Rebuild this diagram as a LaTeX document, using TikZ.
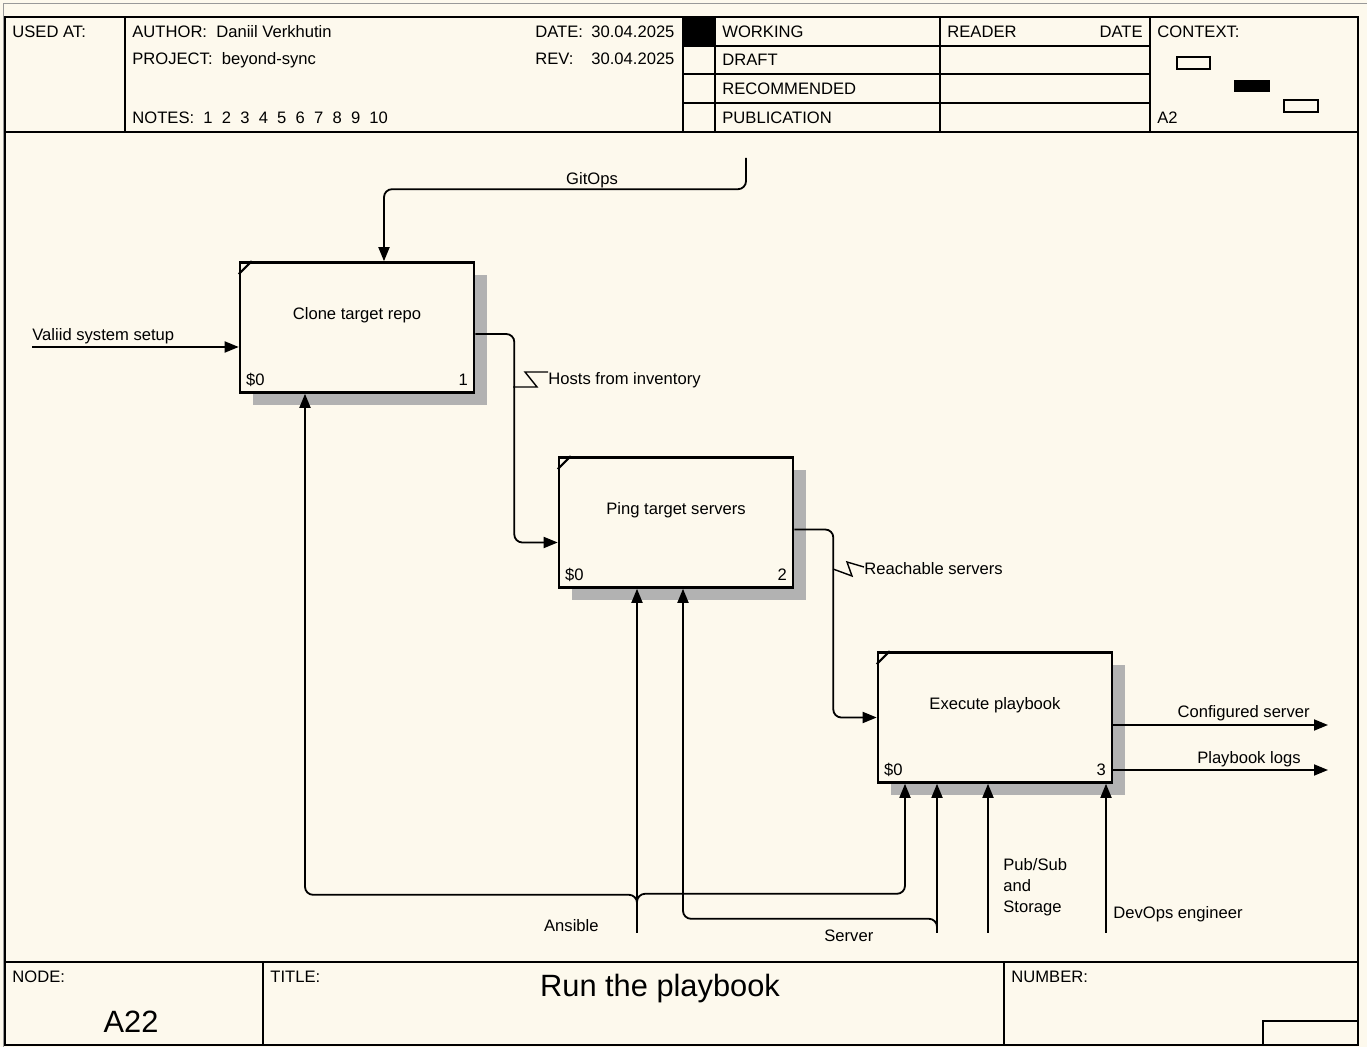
\documentclass[tikz,border=0pt]{standalone}
\usepackage{fontspec}
\setmainfont{Liberation Sans}
\usetikzlibrary{arrows.meta,calc,positioning,shadows}
\definecolor{paper}{HTML}{FDF9ED}
\newcommand{\lsz}{\fontsize{8.3}{10.5}\selectfont}
\newcommand{\bigsz}{\fontsize{15.4}{18}\selectfont}
\tikzset{
  fnbox/.style = {draw, line width=1.3pt, fill=paper, minimum width=117pt, minimum height=65pt,
                  inner sep=0pt,
                  drop shadow={shadow xshift=6.5pt, shadow yshift=-6.5pt, fill=black!30, opacity=1}},
  wire/.style  = {line width=0.9pt, rounded corners=4pt},
  flow/.style  = {wire, -{Triangle[length=7pt,width=5.5pt]}},
  squig/.style = {line width=0.7pt},
  frame/.style = {line width=1pt},
  lbl/.style   = {font=\lsz, inner sep=0pt, anchor=base west},
}

\begin{document}
\begin{tikzpicture}[x=0.5pt,y=-0.5pt]
  \fill[paper] (0,0) rectangle (1367,1047);
  \useasboundingbox (0,0) rectangle (1367,1047);
  \draw[black!40] (3,1047) -- (3,3) -- (1367,3);
  \draw[frame] (5,17) rectangle (1358,1045);
  \draw[frame] (5,132) -- (1358,132);
  \draw[frame] (5,962) -- (1358,962);
  \foreach \x in {125,683,715,940,1150} \draw[frame] (\x,17) -- (\x,132);
  \foreach \y in {46,74,103} \draw[frame] (683,\y) -- (1150,\y);
  \fill (683,17) rectangle (715,46);
  \draw[frame] (1177,57) rectangle (1210,69);
  \fill (1234,80) rectangle (1270,92);
  \draw[frame] (1284,100) rectangle (1318,112);
  \foreach \x in {263,1004} \draw[frame] (\x,962) -- (\x,1045);
  \draw[frame] (1263,1045) |- (1358,1021);

  \node[lbl] (usedat)  at (12,38)   {USED AT:};
  \node[lbl] (author)  at (132,38)  {AUTHOR:\ \ Daniil Verkhutin};
  \node[lbl] (project) at (132,65)  {PROJECT:\ \ beyond-sync};
  \node[lbl] (notes)   at (132,124) {NOTES:\ \ 1\ \ 2\ \ 3\ \ 4\ \ 5\ \ 6\ \ 7\ \ 8\ \ 9\ \ 10};
  \node[lbl] (date)    at (535,38)  {DATE:};
  \node[lbl] (dateval) at (591,38)  {30.04.2025};
  \node[lbl] (rev)     at (535,65)  {REV:};
  \node[lbl] (revval)  at (591,65)  {30.04.2025};
  \node[lbl] (working) at (722,38)  {WORKING};
  \node[lbl] (draft)   at (722,66)  {DRAFT};
  \node[lbl] (recomm)  at (722,95)  {RECOMMENDED};
  \node[lbl] (publ)    at (722,124) {PUBLICATION};
  \node[lbl] (reader)  at (947,38)  {READER};
  \node[lbl,anchor=base east] (rdate) at (1143,38) {DATE};
  \node[lbl] (context) at (1157,38)  {CONTEXT:};
  \node[lbl] (ctxnode) at (1157,124) {A2};
  \node[lbl] (nodelbl) at (12,983)   {NODE:};
  \node[lbl] (titlelbl) at (270,983) {TITLE:};
  \node[lbl] (numlbl)  at (1011,983) {NUMBER:};
  \node[inner sep=0pt,anchor=base,font=\bigsz] (nodeid) at (131,1033) {A22};
  \node[inner sep=0pt,anchor=base,font=\bigsz] (title)  at (660,997)  {Run the playbook};

  \node[fnbox] (clone) at (357,327.5) {};
  \node[fnbox] (ping)  at ($(clone)+(319,195)$) {};
  \node[fnbox] (exec)  at ($(ping)+(319,195)$) {};
  \foreach \b/\t/\n in {clone/Clone target repo/1, ping/Ping target servers/2, exec/Execute playbook/3}{
    \node[lbl,anchor=base] (\b-t) at ($(\b.north)+(0,58)$) {\t};
    \node[lbl] (\b-c) at ($(\b.south west)+(7,-8)$) {\$0};
    \node[lbl,anchor=base east] (\b-n) at ($(\b.south east)+(-7,-8)$) {\n};
    \draw[line width=1.1pt] ($(\b.north west)+(0,13)$) -- ($(\b.north west)+(13,0)$);
  }

  \coordinate (gitops)  at (746,158);
  \coordinate (setup)   at (32,347);
  \coordinate (cfgout)  at (1328,725);
  \coordinate (logout)  at (1328,770);
  \coordinate (ansible) at (637,933);
  \coordinate (server)  at (937,933);
  \coordinate (pubsub)  at (988,933);
  \coordinate (devops)  at (1106,933);

  \draw[flow] (gitops) |- ($(clone.north)+(27,-72)$) -- ($(clone.north)+(27,0)$);
  \draw[flow] (setup) -- (setup -| clone.west);
  \draw[flow] ($(clone.east)+(0,6.5)$) -- ++(39,0) |- ($(ping.west)+(0,20)$);
  \draw[flow] ($(ping.east)+(0,7)$) -- ++(39,0) |- (exec.west);
  \draw[flow] (exec.east |- cfgout) -- (cfgout);
  \draw[flow] (exec.east |- logout) -- (logout);
  \draw[flow] (ansible) -- (ansible |- ping.south);
  \draw[flow] (ansible) |- ($(clone.south)+(-52,501)$) -- ($(clone.south)+(-52,0)$);
  \draw[flow] (ansible) |- ($(exec.south)+(-90,110)$) -- ($(exec.south)+(-90,0)$);
  \draw[flow] (server) -- (server |- exec.south);
  \draw[flow] (server) |- ($(ping.south)+(7,330)$) -- ($(ping.south)+(7,0)$);
  \draw[flow] (pubsub) -- (pubsub |- exec.south);
  \draw[flow] (devops) -- (devops |- exec.south);

  \draw[squig] (513,387) -- (537,387) -- (525,372) -- (548,372);
  \draw[squig] (833,569) -- (852,576) -- (847,562) -- (864,567);

  \node[lbl,anchor=base] (gitops-l) at (592,185) {GitOps};
  \node[lbl] (setup-l)  at (32,341)  {Valiid system setup};
  \node[lbl] (hosts-l)  at (548,385) {Hosts from inventory};
  \node[lbl] (reach-l)  at (864,575) {Reachable servers};
  \node[lbl,anchor=base east] (cfg-l) at (1310,718) {Configured server};
  \node[lbl,anchor=base east] (log-l) at (1301,764) {Playbook logs};
  \node[lbl,anchor=base east] (ansible-l) at (599,932) {Ansible};
  \node[lbl] (server-l) at (824,942) {Server};
  \node[lbl,anchor=north west,align=left] (pubsub-l) at (1003,858) {Pub/Sub\\and\\Storage};
  \node[lbl] (devops-l) at (1113,919) {DevOps engineer};
\end{tikzpicture}
\end{document}
